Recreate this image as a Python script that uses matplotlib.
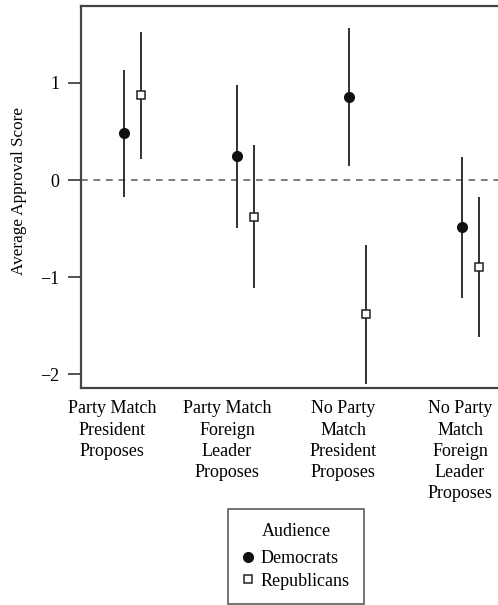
# -*- coding: utf-8 -*-
import matplotlib.pyplot as plt
import numpy as np

plt.rcParams['font.family'] = ['Liberation Serif', 'DejaVu Serif']
plt.rcParams['axes.unicode_minus'] = True

# 四种条件，两组受众
conditions = ['Party Match\nPresident\nProposes',
              'Party Match\nForeign\nLeader\nProposes',
              'No Party\nMatch\nPresident\nProposes',
              'No Party\nMatch\nForeign\nLeader\nProposes']
dem_mean = [0.48, 0.25, 0.85, -0.48]
dem_low = [-0.17, -0.49, 0.14, -1.21]
dem_high = [1.13, 0.98, 1.56, 0.24]
rep_mean = [0.87, -0.38, -1.38, -0.89]
rep_low = [0.22, -1.11, -2.10, -1.62]
rep_high = [1.52, 0.36, -0.67, -0.17]

fig = plt.figure(figsize=(4.98, 6.05), dpi=100)
ax = fig.add_axes([0.1627, 0.3587, 0.845, 0.6313])

x = np.arange(1, len(conditions) + 1)
off = 0.076

ax.axhline(0, color='#666666', lw=1.2, ls=(0, (4, 3.5)), zorder=1)

# 置信区间竖线 + 点
ax.vlines(x - off, dem_low, dem_high, color='#222222', lw=1.3, zorder=2)
ax.vlines(x + off, rep_low, rep_high, color='#222222', lw=1.3, zorder=2)
ax.plot(x - off, dem_mean, 'o', color='#111111', ms=7, zorder=3, label='Democrats')
ax.plot(x + off, rep_mean, 's', mfc='white', mec='#222222', mew=1.1, ms=5.5,
        zorder=3, label='Republicans')

ax.set_xlim(0.541, 4.278)
ax.set_ylim(-2.14, 1.79)
ax.set_yticks([-2, -1, 0, 1])
ax.set_yticklabels(['\u22122', '\u22121', '0', '1'])
# 标签稍微偏左
ax.set_xticks(x + np.array([-0.184, -0.163, -0.132, -0.093]))
ax.set_xticklabels(conditions, fontsize=13, linespacing=1.32, va='top')
ax.tick_params(axis='x', length=0, pad=9)
ax.tick_params(axis='y', length=9.5, width=1.3, color='#444444', labelsize=13, pad=6)
ax.set_ylabel('Average Approval Score', fontsize=12.3)
ax.yaxis.set_label_coords(-0.128, 0.515)

for s in ['left', 'bottom', 'top', 'right']:
    ax.spines[s].set_color('#444444')
    ax.spines[s].set_linewidth(1.6)

leg = fig.legend(loc='upper center', bbox_to_anchor=(296 / 498, 1 - 509 / 605),
                 title='Audience', fontsize=13, title_fontsize=13,
                 frameon=True, fancybox=False, edgecolor='#333333',
                 handlelength=0.6, handletextpad=0.4, borderpad=0.8,
                 borderaxespad=0, labelspacing=0.3)
leg.get_frame().set_linewidth(1.2)
leg._legend_box.sep = 7

fig.savefig('out.png', dpi=100)
